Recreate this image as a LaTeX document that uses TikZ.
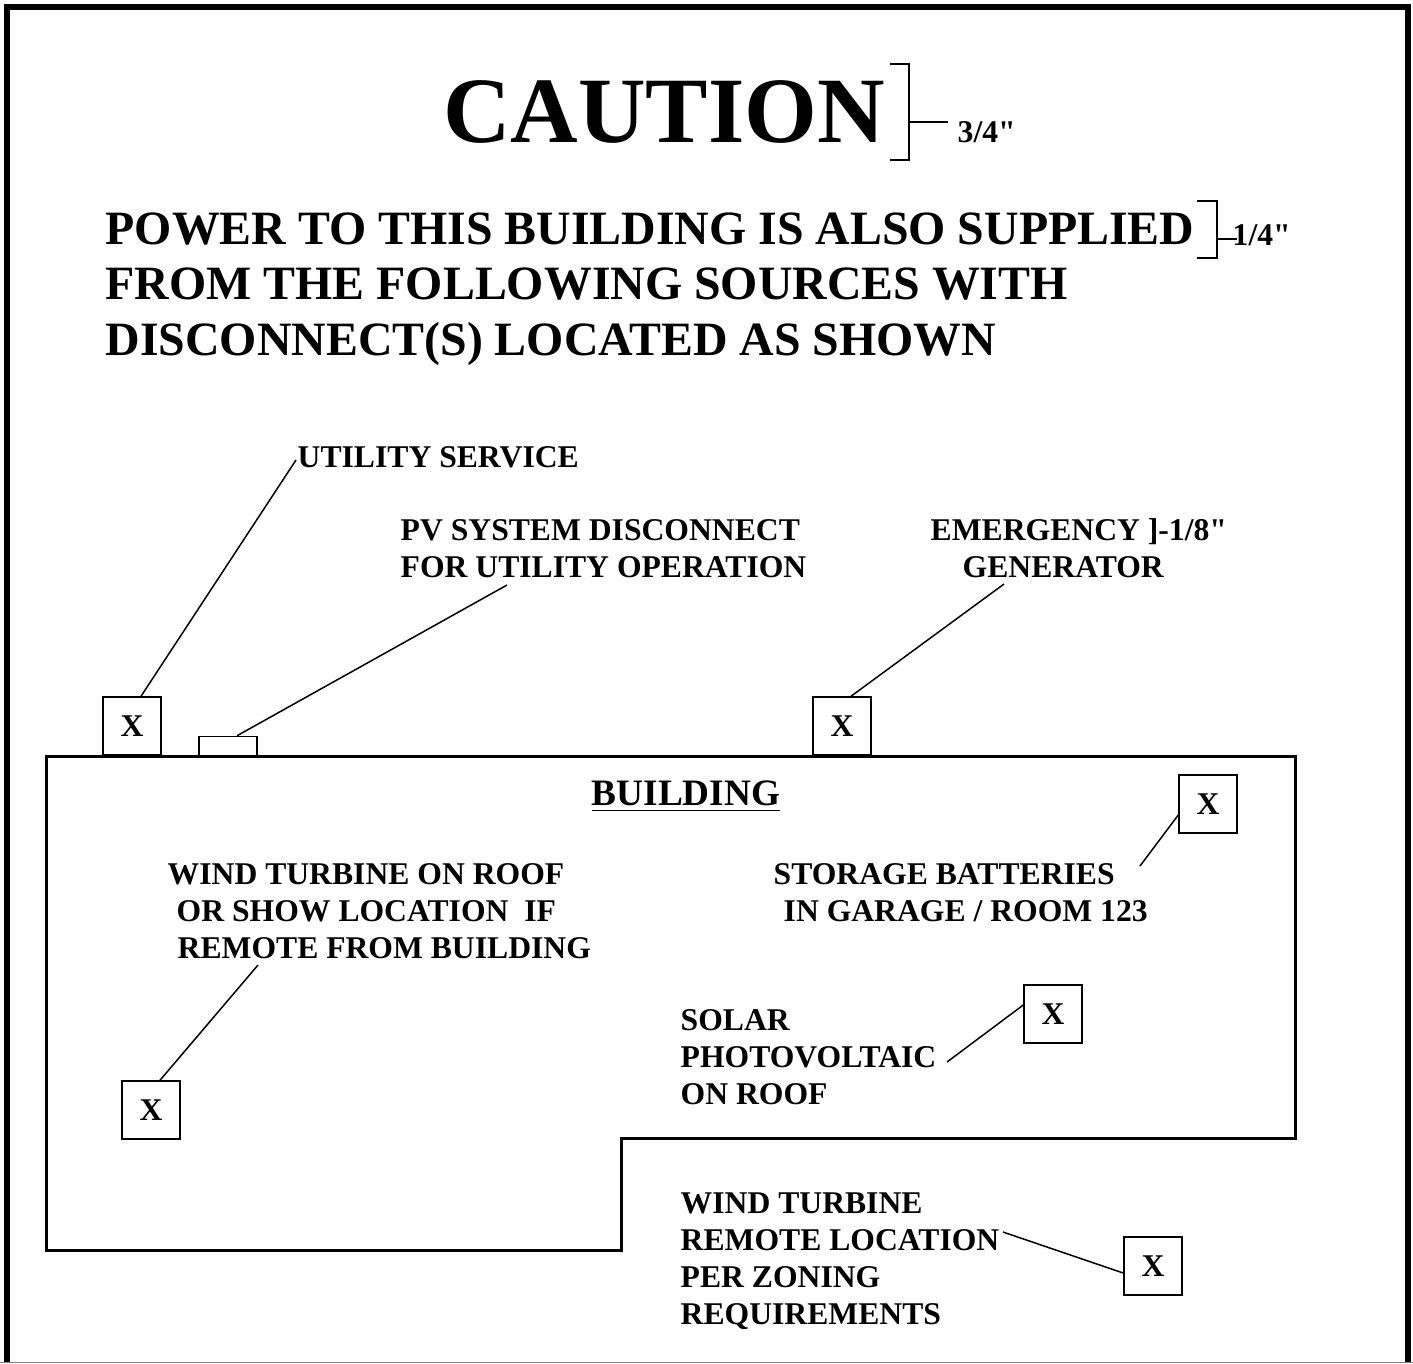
\documentclass[tikz,border=0pt]{standalone}
\usepackage{fontspec}
\setmainfont{Liberation Serif}[Ligatures=TeXOff]
\newcommand{\lblfont}{\fontsize{9}{10.45}\selectfont\bfseries}
\tikzset{
    lbl/.style={inner sep=0pt, anchor=base west, align=left, font=\lblfont},
    xbox/.style={draw, line width=0.015cm, minimum size=0.58cm, inner sep=0pt, font=\lblfont},
    lead/.style={line width=0.015cm},
    brk/.style={line width=0.012cm},
  }
\begin{document}
\begin{tikzpicture}[x=0.01cm,y=-0.01cm]
				  \useasboundingbox (0,0) rectangle (1413,1363);
				  %FRAME
				  \draw[line width=0.06cm] (7,1363) -- (7,7) -- (1408,7) -- (1408,1363);
				  \draw[gray, line width=0.01cm] (0,1362) -- (1413,1362);

				  %TITLE + BRACKETS (multi-line nodes sit on their last baseline)
				  \node[inner sep=0pt, anchor=base, font=\fontsize{26.6}{32}\selectfont\bfseries] (caution) at (664,142) {CAUTION};
				  \draw[brk] (890,64) -- (909,64) -- (909,160) -- (890,160);
				  \draw[brk] (909,122) -- (948,122) coordinate (t1);
				  \node[lbl] (s1) at (957,142) {3/4"};

				  \node[lbl, font=\fontsize{13.6}{15.65}\selectfont\bfseries] (power) at (105,355) {POWER TO THIS BUILDING IS ALSO SUPPLIED\\FROM THE FOLLOWING SOURCES WITH\\DISCONNECT(S) LOCATED AS SHOWN};
				  \draw[brk] (1197,201) -- (1217,201) -- (1217,258) -- (1197,258);
				  \draw[brk] (1217,239) -- (1237,239) coordinate (t2);
				  \node[lbl] (s2) at (1232,245) {1/4"};

				  %BUILDING
				  \draw[line width=0.03cm] (46,756) -- (1295,756) -- (1295,1138) -- (621,1138) -- (621,1250) -- (46,1250) -- cycle;
				  \node[inner sep=0pt, anchor=base, font=\fontsize{10.6}{12}\selectfont\bfseries] (bldg) at (686,805) {\underline{BUILDING}};

				  %BOXES
				  \node[xbox] (ut) at (132,726) {X};
				  \node[draw, line width=0.015cm, minimum width=0.58cm, minimum height=0.19cm, inner sep=0pt] (pv) at (228,746) {};
				  \node[xbox] (em) at (842,726) {X};
				  \node[xbox] (st) at (1208,804) {X};
				  \node[xbox] (wr) at (151,1110) {X};
				  \node[xbox] (so) at (1053,1014) {X};
				  \node[xbox] (rm) at (1153,1266) {X};

				  %LABELS
				  \node[lbl] (utlab) at (297,467) {UTILITY SERVICE};
				  \node[lbl] (pvlab) at (400,577) {PV SYSTEM DISCONNECT\\FOR UTILITY OPERATION};
				  \node[lbl] (emlab) at (930,577) {EMERGENCY ]-1/8"\\\hspace*{0.32cm}GENERATOR};
				  \node[lbl] (stlab) at (773,921) {STORAGE BATTERIES\\\hspace*{0.1cm}IN GARAGE / ROOM 123};
				  \node[lbl] (wrlab) at (167,958) {WIND TURBINE ON ROOF\\\hspace*{0.09cm}OR SHOW LOCATION\ \ IF\\\hspace*{0.1cm}REMOTE FROM BUILDING};
				  \node[lbl] (solab) at (680,1104) {SOLAR\\PHOTOVOLTAIC\\ON ROOF};
				  \node[lbl] (rmlab) at (680,1324) {WIND TURBINE\\REMOTE LOCATION\\PER ZONING\\REQUIREMENTS};

				  %LEADERS
				  \coordinate (utend) at (296,460);
				  \coordinate (pvend) at (507,585);
				  \coordinate (emend) at (1004,584);
				  \coordinate (stend) at (1140,866);
				  \coordinate (wrend) at (258,965);
				  \coordinate (soend) at (947,1062);
				  \coordinate (rmend) at (1003,1232);
				  \draw[lead] ([xshift=0.09cm]ut.north) -- (utend);
				  \draw[lead] ([xshift=0.09cm]pv.north) -- (pvend);
				  \draw[lead] ([xshift=0.09cm]em.north) -- (emend);
				  \draw[lead] ([yshift=-0.11cm]st.west) -- (stend);
				  \draw[lead] ([xshift=0.09cm]wr.north) -- (wrend);
				  \draw[lead] ([yshift=0.09cm]so.west) -- (soend);
				  \draw[lead] ([yshift=-0.07cm]rm.west) -- (rmend);
\end{tikzpicture}
\end{document}
